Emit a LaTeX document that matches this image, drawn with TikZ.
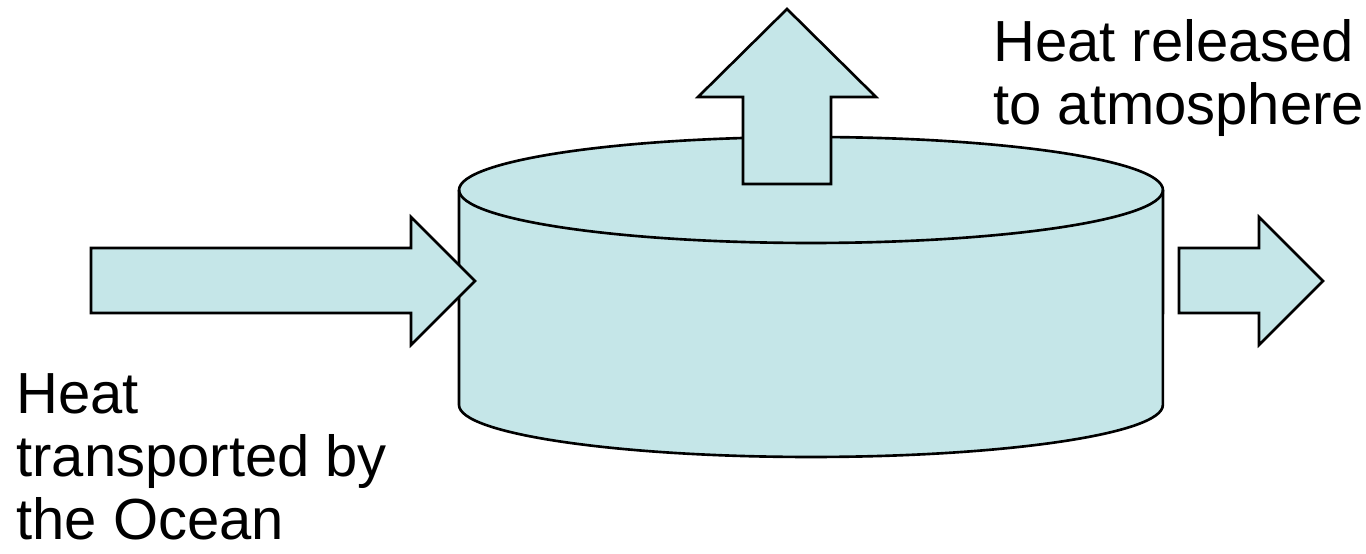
\documentclass[tikz,border=0pt]{standalone}
\usepackage{fontspec}
\setmainfont{Liberation Sans}
\definecolor{oceanfill}{HTML}{C5E6E8}
\tikzset{
  blockarrow/.style={fill=oceanfill, draw=black, line width=1.5pt, line join=miter},
  bigtext/.style={font=\fontsize{33}{36.1}\selectfont, inner sep=0pt, align=left, anchor=base west}
}
\begin{document}
\begin{tikzpicture}[x=0.02cm, y=0.02cm]
     \useasboundingbox (0,0) rectangle (1366,554);
     % ocean box
     \fill [oceanfill] (459,364) -- (459,149) arc[start angle=180, end angle=360, x radius=7.04cm, y radius=1.04cm] -- (1163,364) arc[start angle=0, end angle=180, x radius=7.04cm, y radius=1.06cm] -- cycle;
     \draw [line width=1.5pt] (459,364) -- (459,149) arc[start angle=180, end angle=360, x radius=7.04cm, y radius=1.04cm] -- (1163,364);
     \draw [line width=1.5pt] (811,364) ellipse [x radius=7.04cm, y radius=1.06cm];
     % arrows
     \draw [blockarrow] (743,370) -- (743,457) -- (698,457) -- (787,545) -- (876,457) -- (831,457) -- (831,370) -- cycle;
     \draw [blockarrow] (91,241) -- (91,306) -- (411,306) -- (411,337) -- (475,273) -- (411,209) -- (411,241) -- cycle;
     \draw [blockarrow] (1179,241) -- (1179,306) -- (1259,306) -- (1259,337) -- (1323,273) -- (1259,209) -- (1259,241) -- cycle;
     % labels (base anchor sits on the last line)
     \node [bigtext] (released) at (993,429) {Heat released\\to atmosphere};
     \node [bigtext] (transported) at (16,14) {Heat\\transported by\\the Ocean};
\end{tikzpicture}
\end{document}
